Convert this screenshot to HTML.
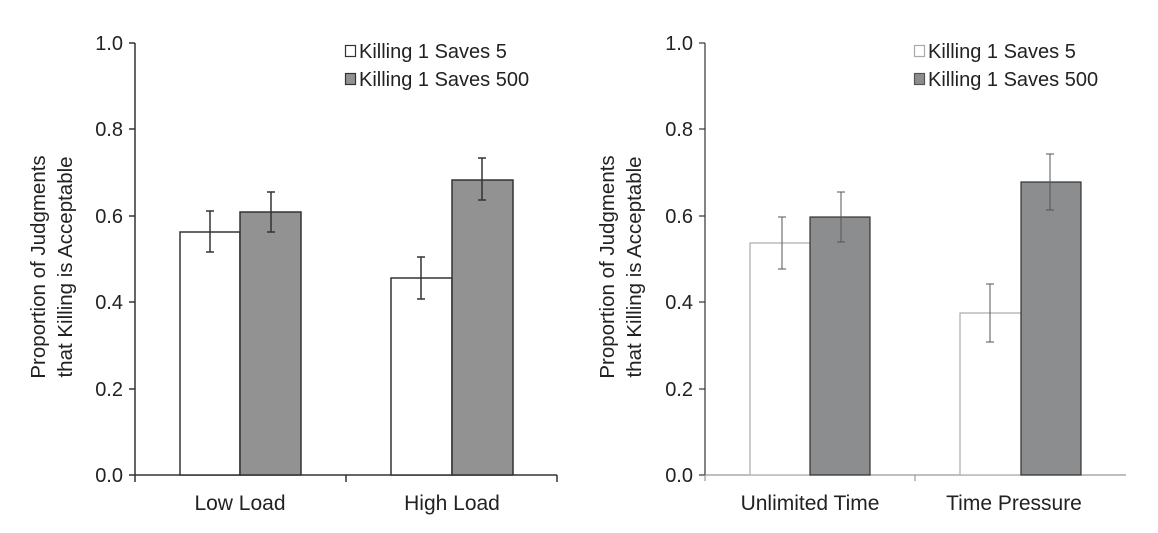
<!DOCTYPE html>
<html><head><meta charset="utf-8"><style>
html,body{margin:0;padding:0;background:#fff;}
svg{display:block;font-family:"Liberation Sans",Arial,sans-serif;}
</style></head><body>
<svg width="1158" height="533" viewBox="0 0 1158 533" xmlns="http://www.w3.org/2000/svg">
<!-- LEFT CHART -->
<g stroke="#333" stroke-width="1.5" fill="none">
<line x1="135" y1="43" x2="135" y2="475"/>
<line x1="135" y1="475" x2="557" y2="475"/>
<line x1="129" y1="43" x2="135" y2="43"/>
<line x1="129" y1="129" x2="135" y2="129"/>
<line x1="129" y1="216" x2="135" y2="216"/>
<line x1="129" y1="302" x2="135" y2="302"/>
<line x1="129" y1="389" x2="135" y2="389"/>
<line x1="129" y1="475" x2="135" y2="475"/>
<line x1="135" y1="475" x2="135" y2="482"/>
<line x1="346" y1="475" x2="346" y2="482"/>
<line x1="557" y1="475" x2="557" y2="482"/>
</g>
<g font-size="20" fill="#222" text-anchor="end">
<text x="123" y="50">1.0</text><text x="123" y="136">0.8</text><text x="123" y="223">0.6</text>
<text x="123" y="309">0.4</text><text x="123" y="396">0.2</text><text x="123" y="482">0.0</text>
</g>
<text transform="translate(45,267) rotate(-90)" font-size="20.5" fill="#222" text-anchor="middle">Proportion of Judgments</text>
<text transform="translate(72,267) rotate(-90)" font-size="20.5" fill="#222" text-anchor="middle">that Killing is Acceptable</text>
<g stroke="#333" stroke-width="1.5">
<rect x="180" y="232" width="60" height="243" fill="#fff"/>
<rect x="240" y="212" width="61" height="263" fill="#929292"/>
<rect x="391" y="278" width="61" height="197" fill="#fff"/>
<rect x="452" y="180" width="61" height="295" fill="#929292"/>
<path d="M210 211V252M206 211H214M206 252H214 M271 192V232M267 192H275M267 232H275 M421 257V299M417 257H425M417 299H425 M482 158V200M478 158H486M478 200H486" fill="none"/>
</g>
<g font-size="21" fill="#222" text-anchor="middle">
<text x="240" y="510">Low Load</text><text x="452" y="510">High Load</text>
</g>
<rect x="345.5" y="45.5" width="10" height="11" fill="#fff" stroke="#333" stroke-width="1.2"/>
<rect x="345.5" y="73.5" width="10" height="11" fill="#929292" stroke="#333" stroke-width="1.2"/>
<g font-size="20" fill="#222"><text x="359" y="58">Killing 1 Saves 5</text><text x="359" y="86">Killing 1 Saves 500</text></g>

<!-- RIGHT CHART -->
<g stroke="#333" stroke-width="1.2" fill="none">
<line x1="705" y1="43" x2="705" y2="475"/>
<line x1="699" y1="43" x2="705" y2="43"/>
<line x1="699" y1="129" x2="705" y2="129"/>
<line x1="699" y1="216" x2="705" y2="216"/>
<line x1="699" y1="302" x2="705" y2="302"/>
<line x1="699" y1="389" x2="705" y2="389"/>
<line x1="699" y1="475" x2="705" y2="475"/>
</g>
<g stroke="#999" stroke-width="1.2">
<line x1="705" y1="475" x2="1126" y2="475"/>
<line x1="705" y1="475" x2="705" y2="481"/>
<line x1="915" y1="475" x2="915" y2="481"/>
</g>
<g font-size="20" fill="#222" text-anchor="end">
<text x="693" y="50">1.0</text><text x="693" y="136">0.8</text><text x="693" y="223">0.6</text>
<text x="693" y="309">0.4</text><text x="693" y="396">0.2</text><text x="693" y="482">0.0</text>
</g>
<text transform="translate(614,267) rotate(-90)" font-size="20.5" fill="#222" text-anchor="middle">Proportion of Judgments</text>
<text transform="translate(641,267) rotate(-90)" font-size="20.5" fill="#222" text-anchor="middle">that Killing is Acceptable</text>
<rect x="750" y="243" width="60" height="232" fill="#fff" stroke="#aaa" stroke-width="1.2"/>
<rect x="960" y="313" width="61" height="162" fill="#fff" stroke="#aaa" stroke-width="1.2"/>
<rect x="810" y="217" width="60" height="258" fill="#8c8d8f" stroke="#333" stroke-width="1.2"/>
<rect x="1021" y="182" width="60" height="293" fill="#8c8d8f" stroke="#333" stroke-width="1.2"/>
<path d="M782 217V269M778 217H786M778 269H786 M841 192V242M837 192H845M837 242H845 M990 284V342M986 284H994M986 342H994 M1050 154V210M1046 154H1054M1046 210H1054" stroke="#555" stroke-width="1" fill="none"/>
<g font-size="21" fill="#222" text-anchor="middle">
<text x="810" y="510">Unlimited Time</text><text x="1014" y="510">Time Pressure</text>
</g>
<rect x="914.5" y="45.5" width="10" height="11" fill="#fff" stroke="#aaa" stroke-width="1.2"/>
<rect x="914.5" y="73.5" width="10" height="11" fill="#8c8d8f" stroke="#555" stroke-width="1.2"/>
<g font-size="20" fill="#222"><text x="928" y="58">Killing 1 Saves 5</text><text x="928" y="86">Killing 1 Saves 500</text></g>
</svg>
</body></html>
